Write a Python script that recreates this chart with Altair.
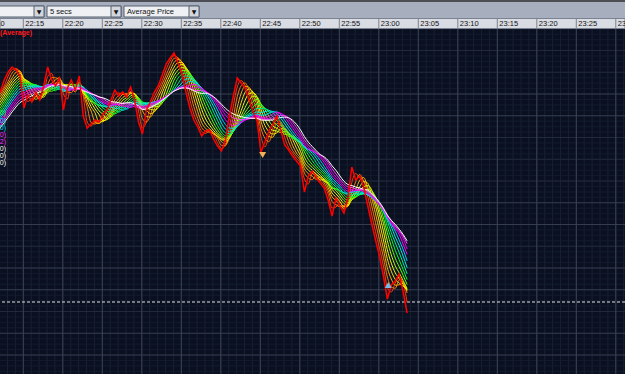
import altair as alt
import pandas as pd

# ---------------- data ----------------
# Average price of the 5-second bars, one reading every 30 s.
# The first readings lie left of the visible window (estimated from the MA spread at the left edge).
pre_prices = [1235, 1238, 1242, 1246, 1250, 1254, 1258, 1262, 1267, 1272, 1278, 1284, 1290, 1296, 1302, 1308]
prices = [1308, 1320, 1328, 1333, 1330, 1324, 1292, 1305, 1298, 1308, 1300, 1314, 1333, 1320, 1314, 1322,
          1290, 1312, 1320, 1310, 1324, 1284, 1272, 1276, 1280, 1278, 1286, 1290, 1300, 1310, 1304, 1308,
          1303, 1313, 1300, 1278, 1266, 1290, 1298, 1308, 1314, 1325, 1336, 1342, 1347, 1337, 1326, 1308,
          1292, 1280, 1273, 1264, 1269, 1270, 1261, 1254, 1249, 1260, 1284, 1304, 1322, 1317, 1312, 1300,
          1288, 1279, 1248, 1258, 1269, 1276, 1284, 1270, 1255, 1250, 1244, 1239, 1234, 1208, 1224, 1229,
          1222, 1217, 1212, 1200, 1184, 1202, 1194, 1187, 1202, 1233, 1220, 1224, 1213, 1195, 1177, 1160,
          1144, 1124, 1101, 1115, 1119, 1126, 1108, 1087]
first_minute = 12 + 5 / 60          # 22:12:05, first visible reading (minutes after 22:00)
step_minutes = 0.5                  # 30 s between readings

ma_windows = [2, 3, 4, 5, 6, 7, 8, 9, 10, 11, 12, 13, 14, 15, 16]
ma_colors = ["#ff3c00", "#ff7a00", "#ffb000", "#ffe000", "#f0ff00", "#b8ff00", "#66ff00", "#00ff30",
             "#00f08a", "#00f0e0", "#00d0ff", "#ff00ff", "#e000f0", "#ff40ff", "#ffffff"]

tick_minutes = [10, 15, 20, 25, 30, 35, 40, 45, 50, 55, 60, 65, 70, 75, 80, 85, 90]
tick_labels = ["22:10", "22:15", "22:20", "22:25", "22:30", "22:35", "22:40", "22:45", "22:50",
               "22:55", "23:00", "23:05", "23:10", "23:15", "23:20", "23:25", "23:30"]

signal_minutes = [45.3, 61.2]
signal_prices = [1245, 1115]
signal_shapes = ["triangle-down", "triangle-up"]
signal_colors = ["#f2b155", "#74bde8"]
ref_price = 1098

toolbar_texts = ["5 secs", "Average Price"]
legend_labels = ["0)", "0)", "0)", "0)", "2)", "0)", "0)", "0)"]
legend_colors = ["#33ff33", "#00e5ff", "#00e5ff", "#ff33ff", "#ff33ff", "#ffffff", "#ffffff", "#ffffff"]

# ---------------- tables ----------------
all_prices = pre_prices + prices
n_pre = len(pre_prices)
df = pd.DataFrame({
    "t": [first_minute + step_minutes * (i - n_pre) for i in range(len(all_prices))],
    "price": all_prices,
})

xs = alt.Scale(domain=[12.05, 91.165], nice=False, zero=False)
ys = alt.Scale(domain=[1026, 1400], nice=False, zero=False)

# grid
minute_df = pd.DataFrame({"m": list(range(12, 92))})
major_df = pd.DataFrame({"m": tick_minutes})
h_fine = pd.DataFrame({"p": [1306 - 5.4375 * j for j in range(-12, 54)]})
h_mid = pd.DataFrame({"p": [1306 - 21.75 * j for j in [-3, -2, -1, 2, 3, 4, 7, 10, 13]]})
h_major = pd.DataFrame({"p": [1306 - 21.75 * j for j in [0, 1, 5, 6, 8, 9, 11, 12]]})

grid_fine_v = alt.Chart(minute_df).mark_rule(color="#172033", strokeWidth=1).encode(
    x=alt.X("m:Q", scale=xs, axis=None))
grid_fine_h = alt.Chart(h_fine).mark_rule(color="#121b2d", strokeWidth=1).encode(
    y=alt.Y("p:Q", scale=ys, axis=None))
grid_mid_h = alt.Chart(h_mid).mark_rule(color="#212a3c", strokeWidth=1).encode(
    y=alt.Y("p:Q", scale=ys, axis=None))
grid_major_h = alt.Chart(h_major).mark_rule(color="#343d50", strokeWidth=1).encode(
    y=alt.Y("p:Q", scale=ys, axis=None))
grid_major_v = alt.Chart(major_df).mark_rule(color="#3a4356", strokeWidth=1).encode(
    x=alt.X("m:Q", scale=xs, axis=None))

ref_line = alt.Chart(pd.DataFrame({"p": [ref_price]})).mark_rule(
    color="#dfe2e8", strokeWidth=1, strokeDash=[3, 2]).encode(y=alt.Y("p:Q", scale=ys, axis=None))

# moving-average ribbon
names = [f"m{w:02d}" for w in ma_windows]
ma = alt.Chart(df)
for w, nm in zip(ma_windows, names):
    ma = ma.transform_window(**{nm: "mean(price)"}, frame=[-(w - 1), 0], sort=[alt.SortField("t")])
ma = ma.transform_fold(names, as_=["ma", "val"]).mark_line(clip=True, interpolate="monotone").encode(
    x=alt.X("t:Q", scale=xs, axis=None),
    y=alt.Y("val:Q", scale=ys, axis=None),
    color=alt.Color("ma:N", scale=alt.Scale(domain=names, range=ma_colors), legend=None),
    strokeWidth=alt.StrokeWidth("ma:N", scale=alt.Scale(domain=names, range=[1] * (len(names) - 1) + [1.6]),
                                legend=None),
)

price_line = alt.Chart(df).mark_line(color="#ff0000", strokeWidth=1.5, clip=True).encode(
    x=alt.X("t:Q", scale=xs, axis=None), y=alt.Y("price:Q", scale=ys, axis=None))

sig_df = pd.DataFrame({"t": signal_minutes, "p": signal_prices, "shape": signal_shapes, "c": signal_colors})
signals = alt.Chart(sig_df).mark_point(filled=True, size=50, opacity=1).encode(
    x=alt.X("t:Q", scale=xs, axis=None), y=alt.Y("p:Q", scale=ys, axis=None),
    shape=alt.Shape("shape:N", scale=None), color=alt.Color("c:N", scale=None))

# toolbar / header (screen furniture)
ui = pd.DataFrame({
    "x0": [0, 0, -2, 34, 47, 111, 124, 189, 0],
    "x1": [625, 625, 44, 44, 121, 121, 199, 199, 625],
    "y0": [0, 2.5, 6, 6, 6, 6, 6, 6, 18.5],
    "y1": [2.5, 18.5, 17, 17, 17, 17, 17, 17, 28.5],
    "f": ["#4d4f55", "#a7aebd", "#eef0f4", "#d3d6dd", "#eef0f4", "#d3d6dd", "#eef0f4", "#d3d6dd", "#d9dce3"],
    "s": ["#4d4f55", "#a7aebd", "#56606f", "#56606f", "#56606f", "#56606f", "#56606f", "#56606f", "#7b8392"],
})
ui_rects = alt.Chart(ui).mark_rect(strokeWidth=1).encode(
    x=alt.X("x0:Q", scale=None), x2="x1:Q", y=alt.Y("y0:Q", scale=None), y2="y1:Q",
    fill=alt.Fill("f:N", scale=None), stroke=alt.Stroke("s:N", scale=None))

arrows = alt.Chart(pd.DataFrame({"x": [39, 116, 194]})).mark_text(
    text="▼", fontSize=6, color="#111111", baseline="middle", font="DejaVu Sans").encode(
    x=alt.X("x:Q", scale=None), y=alt.value(11.5))

tb_text = alt.Chart(pd.DataFrame({"txt": toolbar_texts, "x": [50, 127]})).mark_text(
    align="left", baseline="middle", fontSize=7.5, font="Liberation Sans", color="#111111").encode(
    x=alt.X("x:Q", scale=None), y=alt.value(11.7), text="txt:N")

hdr_sep = alt.Chart(major_df).mark_rule(color="#7b8392", strokeWidth=1).encode(
    x=alt.X("m:Q", scale=xs, axis=None), y=alt.value(18.5), y2=alt.value(28.5))

hdr_lab = alt.Chart(pd.DataFrame({"m": tick_minutes, "lab": tick_labels})).mark_text(
    align="left", baseline="middle", dx=2, fontSize=7.5, font="Liberation Sans", color="#111111").encode(
    x=alt.X("m:Q", scale=xs, axis=None), y=alt.value(24), text="lab:N")

avg_text = alt.Chart(pd.DataFrame({"txt": ["(Average)"]})).mark_text(
    align="left", baseline="middle", fontSize=7, font="Liberation Sans", fontWeight="bold",
    color="#ff1a1a").encode(x=alt.value(0), y=alt.value(33), text="txt:N")

lg = pd.DataFrame({"txt": legend_labels, "c": legend_colors,
                   "y": [113, 121, 128, 135, 142, 149, 156, 163]})
legend_text = alt.Chart(lg).mark_text(align="right", baseline="middle", fontSize=7,
                                      font="Liberation Sans").encode(
    x=alt.value(6), y=alt.Y("y:Q", scale=None), text="txt:N", color=alt.Color("c:N", scale=None))

chart = alt.layer(
    grid_fine_h, grid_fine_v, grid_mid_h, grid_major_h, grid_major_v, ref_line,
    ma, price_line, signals,
    ui_rects, arrows, tb_text, hdr_sep, hdr_lab, avg_text, legend_text,
).resolve_scale(
    x="independent", y="independent", color="independent", fill="independent",
    stroke="independent", strokeWidth="independent", shape="independent",
).properties(
    width=625, height=374, padding=0, autosize=alt.AutoSizeParams(type="none"),
    background="#0a1020",
).configure_view(stroke=None, fill="#0a1020")

chart.save("out.html", embed_options={"renderer": "svg", "actions": False})
